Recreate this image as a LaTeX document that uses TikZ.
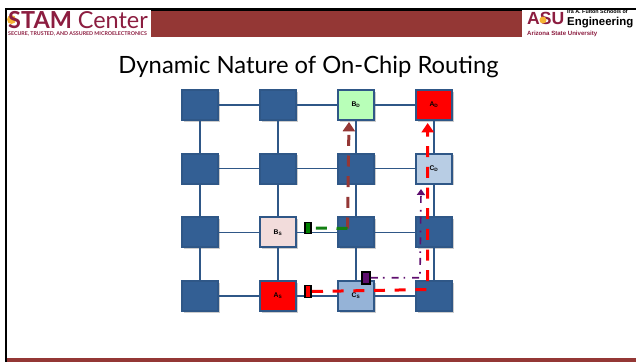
\documentclass[tikz,border=0pt]{standalone}
\usepackage{fontspec}
\setmainfont{Lato}
\newfontfamily\asufont{Liberation Sans}
\usepackage{tikz}
\usepackage{xcolor}
\usetikzlibrary{arrows.meta, positioning, shadows}
\definecolor{maroon}{HTML}{943735}
\definecolor{stamred}{HTML}{8C1D40}
\definecolor{sungold}{HTML}{F5B335}
\definecolor{tileblue}{HTML}{335F94}
\definecolor{tileedge}{HTML}{2F5787}
\definecolor{bdgreen}{HTML}{B8FFB8}
\definecolor{cdblue}{HTML}{B8CDE4}
\definecolor{bspink}{HTML}{F2DCDB}
\definecolor{csblue}{HTML}{95B3D7}
\definecolor{routepurple}{HTML}{5F0F6F}
\definecolor{routegreen}{HTML}{128012}
\tikzset{
    tile/.style={draw=tileedge, line width=0.06cm, minimum width=1.08cm, minimum height=0.9cm, inner sep=0pt, font=\asufont\fontsize{5.8}{6}\selectfont\bfseries, drop shadow={shadow xshift=0.05cm, shadow yshift=-0.05cm, opacity=0.4}},
    wire/.style={draw=tileedge, line width=0.04cm},
    port/.style={draw=black, line width=0.05cm, minimum width=0.19cm, inner sep=0pt},
    logotext/.style={inner sep=0pt, anchor=west},
    route/.style={line width=0.09cm, dash pattern=on 0.33cm off 0.29cm}
}
\begin{document}
\begin{tikzpicture}[x=0.03cm, y=-0.03cm]
    \useasboundingbox (0,0) rectangle (636,362);

    % Header and frame
    \fill[maroon] (151,10) rectangle (522,36.7);
    \fill[black] (5,8) rectangle (636,9.5);
    \fill[black] (151,9) rectangle (522,10.8);
    \fill[black] (5.3,8) rectangle (7,362);
    \fill[maroon] (7,358) rectangle (636,362);

    % Left logo
    \fill[sungold] (11.5,19.5) circle (4.5);
    \node[logotext, text=stamred] (stam) at (8,20) {\fontsize{20}{21}\selectfont\textbf{STAM} Center};
    \node[logotext, text=stamred] (stamsub) at (8,34) {\fontsize{4.5}{5}\selectfont\bfseries SECURE, TRUSTED, AND ASSURED MICROELECTRONICS};

    % Right logo
    \node[logotext, text=stamred] (asu) at (527,18.5) {\asufont\fontsize{15}{16}\selectfont\bfseries ASU};
    \fill[sungold] (543,20) circle (3.5);
    \node[logotext] (ira) at (567,12) {\asufont\fontsize{4.6}{5}\selectfont\bfseries Ira A. Fulton Schools of};
    \node[logotext] (engr) at (567,22.8) {\asufont\fontsize{9.75}{10}\selectfont\bfseries Engineering};
    \node[logotext, text=stamred] (azst) at (527,33.5) {\asufont\fontsize{5.2}{6}\selectfont\bfseries Arizona State University};

    % Title
    \node (title) at (308.5,67) {\fontsize{20.3}{24}\selectfont Dynamic Nature of On-Chip Routing};

    % Tiles
    \foreach \c/\r in {1/1, 2/1, 1/2, 2/2, 3/2, 1/3, 3/3, 4/3, 1/4, 4/4} {
        \node[tile, fill=tileblue] (n\c\r) at ({122+78*\c},{41.33+63.67*\r}) {};
    }
    \foreach \c/\r/\tint/\lab/\sub in {3/1/bdgreen/B/D, 4/1/red/A/D, 4/2/cdblue/C/D, 2/3/bspink/B/S, 2/4/red/A/S, 3/4/csblue/C/S} {
        \node[tile, fill=\tint] (n\c\r) at ({122+78*\c},{41.33+63.67*\r}) {\lab\textsubscript{\sub}};
    }

    % Wires
    \foreach \a/\b in {1/2, 2/3, 3/4} {
        \foreach \k in {1,2,3,4} {
            \draw[wire] (n\a\k) -- (n\b\k);
            \draw[wire] (n\k\a) -- (n\k\b);
        }
    }

    % Ports
    \node[port, fill=red, minimum height=0.36cm] (redport) at (308,291.5) {};
    \node[port, fill=green!50!black, minimum height=0.33cm] (greenport) at (308,228) {};
    \node[port, fill=routepurple, minimum width=0.24cm, minimum height=0.36cm] (purpleport) at (366,277.7) {};

    % Turning points and tips
    \coordinate (redturn) at (427.7,289.5);
    \coordinate (redtip) at (427.7,123);
    \coordinate (split) at (347.5,228.5);
    \coordinate (maroontip) at (349,122);
    \coordinate (purpleturn) at (420,277.8);
    \coordinate (purpletip) at (421,189);

    % Routes
    \draw[route, maroon, -{Triangle[length=0.28cm, width=0.36cm]}] (split) -- (maroontip);
    \draw[route, routegreen] (split) -- (greenport.east);
    \draw[routepurple, line width=0.05cm, dash pattern=on 0.21cm off 0.15cm on 0.05cm off 0.21cm, -{Triangle[length=0.18cm, width=0.24cm]}] (purpleport.east) -- (purpleturn) -- (purpletip);
    \draw[route, red, -{Triangle[length=0.28cm, width=0.36cm]}] (redport.east) -- (redturn) -- (redtip);
\end{tikzpicture}
\end{document}
